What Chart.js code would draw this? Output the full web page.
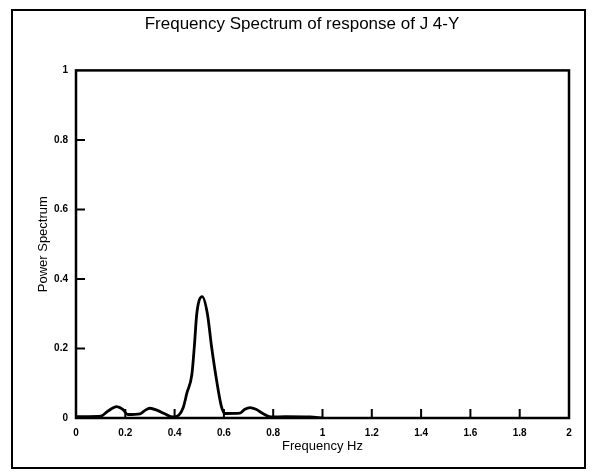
<!DOCTYPE html>
<html>
<head>
<meta charset="utf-8">
<script src="https://cdn.jsdelivr.net/npm/chart.js@4/dist/chart.umd.min.js"></script>
<style>
  html, body { margin: 0; padding: 0; background: #fff; }
  #wrap { width: 592px; height: 475px; }
</style>
</head>
<body>
<div id="wrap"><canvas id="spectrumChart" width="592" height="475"></canvas></div>
<script>
const freqHz = [0, 0.05, 0.1, 0.13, 0.165, 0.19, 0.21, 0.26, 0.28, 0.30, 0.33, 0.36, 0.39, 0.41,
    0.435, 0.45, 0.47, 0.48, 0.49, 0.512, 0.533, 0.55, 0.57, 0.59, 0.605, 0.665, 0.685, 0.706,
    0.73, 0.76, 0.79, 0.85, 0.95, 1.0];
const power = [0.004, 0.004, 0.005, 0.02, 0.033, 0.025, 0.01, 0.012, 0.022, 0.028, 0.022, 0.012, 0.003, 0.005,
    0.03, 0.072, 0.125, 0.205, 0.30, 0.349, 0.30, 0.205, 0.11, 0.033, 0.013, 0.014, 0.025, 0.03,
    0.025, 0.012, 0.003, 0.004, 0.003, 0];
const xTicks = [0.2, 0.4, 0.6, 0.8, 1, 1.2, 1.4, 1.6, 1.8];
const yTicks = [0.2, 0.4, 0.6, 0.8];

const fontFamily = '"Liberation Sans", Arial, sans-serif';

// outer frame, plot box and inward tick marks
const framePlugin = {
    id: 'frame',
    afterDraw(chart) {
        const ctx = chart.ctx;
        const area = chart.chartArea;
        const xs = chart.scales.x;
        const ys = chart.scales.y;
        ctx.save();
        ctx.strokeStyle = '#000';
        ctx.lineWidth = 2;
        ctx.strokeRect(12, 10, 573, 458);
        ctx.lineWidth = 2.5;
        ctx.strokeRect(area.left, area.top, area.right - area.left, area.bottom - area.top);
        ctx.lineWidth = 2;
        ctx.beginPath();
        xTicks.forEach(v => {
            const px = xs.getPixelForValue(v);
            ctx.moveTo(px, area.bottom);
            ctx.lineTo(px, area.bottom - 9);
        });
        yTicks.forEach(v => {
            const py = ys.getPixelForValue(v);
            ctx.moveTo(area.left, py);
            ctx.lineTo(area.left + 9, py);
        });
        ctx.stroke();
        ctx.restore();
    }
};

const points = freqHz.map((f, i) => ({ x: f, y: power[i] }));

new Chart(document.getElementById('spectrumChart').getContext('2d'), {
    type: 'line',
    data: {
        datasets: [{
            label: 'Power Spectrum',
            data: points,
            borderColor: '#000',
            borderWidth: 2.8,
            pointRadius: 0,
            fill: false,
            cubicInterpolationMode: 'monotone'
        }]
    },
    options: {
        responsive: false,
        animation: false,
        layout: { padding: { left: 35, right: 23, top: 0, bottom: 0 } },
        plugins: {
            legend: { display: false },
            tooltip: { enabled: false },
            title: {
                display: true,
                text: 'Frequency Spectrum of response of J 4-Y',
                color: '#000',
                font: { family: fontFamily, size: 17, weight: 'normal' },
                padding: { top: 14, bottom: 36 }
            }
        },
        scales: {
            x: {
                type: 'linear',
                min: 0,
                max: 2,
                afterFit: s => { s.height = 57; },
                grid: { display: false, drawTicks: false },
                border: { display: false },
                ticks: {
                    stepSize: 0.2,
                    padding: 9,
                    color: '#000',
                    font: { family: fontFamily, size: 10, weight: 'bold' },
                    callback: v => Math.round(v * 10) / 10
                },
                title: {
                    display: true,
                    text: 'Frequency Hz',
                    color: '#000',
                    font: { family: fontFamily, size: 13 },
                    padding: { bottom: 21 }
                }
            },
            y: {
                min: 0,
                max: 1,
                afterFit: s => { s.width = 41; },
                grid: { display: false, drawTicks: false },
                border: { display: false },
                ticks: {
                    stepSize: 0.2,
                    padding: 8,
                    color: '#000',
                    font: { family: fontFamily, size: 10, weight: 'bold' },
                    callback: v => Math.round(v * 10) / 10
                },
                title: {
                    display: true,
                    text: 'Power Spectrum',
                    color: '#000',
                    font: { family: fontFamily, size: 13 },
                    padding: { top: 1 }
                }
            }
        }
    },
    plugins: [framePlugin]
});
</script>
</body>
</html>
